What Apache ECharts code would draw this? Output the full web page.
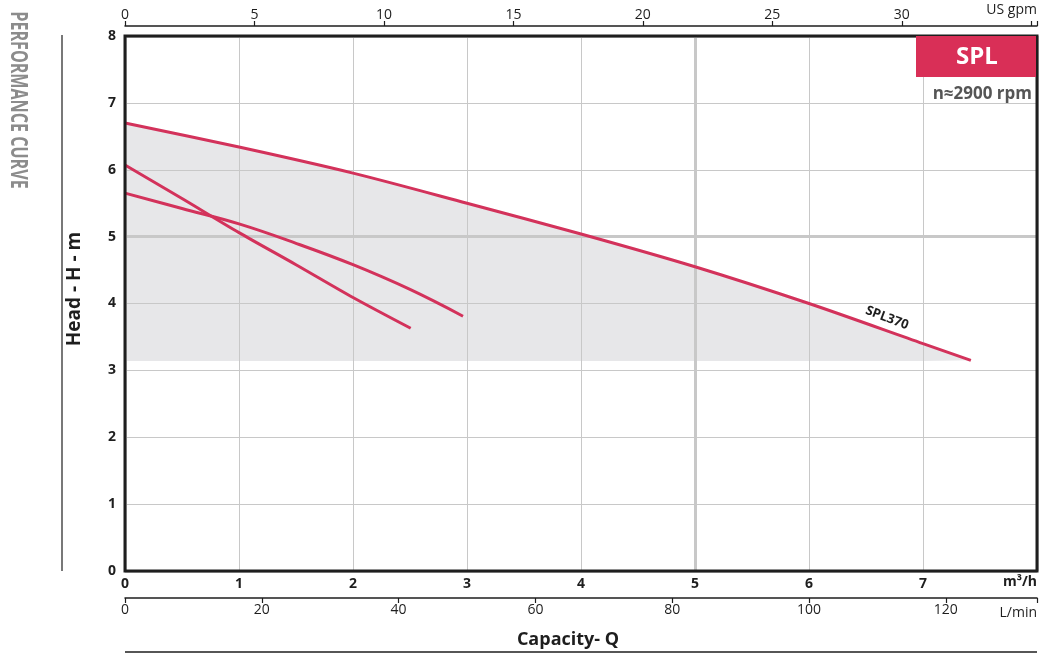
<!DOCTYPE html>
<html>
<head>
<meta charset="utf-8">
<script src="https://cdn.jsdelivr.net/npm/echarts@6/dist/echarts.min.js"></script>
<style>html,body{margin:0;padding:0;background:#fff}#c{width:1055px;height:663px}</style>
</head>
<body>
<div id="c"></div>
<script>
// ---- data ----
const splQ = [0, 1, 2, 3, 4, 5, 6, 7, 7.42];            // m3/h
const splH = [6.70, 6.34, 5.95, 5.50, 5.04, 4.55, 4.00, 3.40, 3.15];
const curveBQ = [0, 0.5, 1, 1.5, 2, 2.5, 2.965];
const curveBH = [5.65, 5.42, 5.19, 4.90, 4.58, 4.21, 3.81];
const curveCQ = [0, 0.5, 1, 1.5, 2, 2.506];
const curveCH = [6.07, 5.57, 5.06, 4.58, 4.09, 3.63];
const areaBase = 3.14;
const qMax = 8, hMax = 8;
const gpmPerM3h = 4.4029, lpmPerM3h = 16.6667;
const gpmLastLabel = 30, lpmLastLabel = 120;
const seriesName = 'SPL370';
const badgeText = 'SPL';
const rpmText = 'n≈2900 rpm';
const yTitle = 'Head - H - m';
const xTitle = 'Capacity- Q';

const pairs = (xs, ys) => xs.map((x, i) => [x, ys[i]]);
const RED = '#d3325b';
const FONT = 'Open Sans';
const G = { left: 125, right: 18, top: 36, bottom: 92 };

const chart = echarts.init(document.getElementById('c'));
chart.setOption({
  animation: false,
  textStyle: { fontFamily: FONT },
  grid: { left: G.left, right: G.right, top: G.top, bottom: G.bottom, show: false },
  xAxis: [
    { type: 'value', min: 0, max: qMax, interval: 1, position: 'bottom',
      axisLine: { show: false }, axisTick: { show: false },
      axisLabel: { color: '#1e1e1e', fontWeight: 'bold', fontSize: 14, margin: 6, showMaxLabel: false },
      splitLine: { show: true, lineStyle: { color: '#c8c8c8', width: 1 } } },
    { type: 'value', min: 0, max: qMax * gpmPerM3h, interval: 5, position: 'top', offset: 10,
      axisLine: { show: true, onZero: false, lineStyle: { color: '#1e1e1e', width: 1.5 } },
      axisTick: { show: true, length: 5, lineStyle: { color: '#1e1e1e', width: 1.2 } },
      axisLabel: { color: '#1e1e1e', fontSize: 14, margin: 4,
        formatter: v => (v <= gpmLastLabel && Math.abs(v % 5) < 1e-6) ? String(v) : '' },
      splitLine: { show: false } },
    { type: 'value', min: 0, max: qMax * lpmPerM3h, interval: 20, position: 'bottom', offset: 27,
      axisLine: { show: true, onZero: false, lineStyle: { color: '#1e1e1e', width: 1.5 } },
      axisTick: { show: true, length: 5, lineStyle: { color: '#1e1e1e', width: 1.2 } },
      axisLabel: { color: '#1e1e1e', fontSize: 14, margin: 5,
        formatter: v => (v <= lpmLastLabel && Math.abs(v % 20) < 1e-6) ? String(v) : '' },
      splitLine: { show: false } },
    { type: 'value', min: 0, max: qMax, interval: 5, position: 'bottom',
      axisLine: { show: false }, axisTick: { show: false }, axisLabel: { show: false },
      splitLine: { show: true, lineStyle: { color: '#c8c8c8', width: 3 } } }
  ],
  yAxis: [
    { type: 'value', min: 0, max: hMax, interval: 1,
      axisLine: { show: false }, axisTick: { show: false },
      axisLabel: { color: '#1e1e1e', fontWeight: 'bold', fontSize: 14, margin: 9 },
      splitLine: { show: true, lineStyle: { color: '#c8c8c8', width: 1 } } },
    { type: 'value', min: 0, max: hMax, interval: 5, position: 'left',
      axisLine: { show: false }, axisTick: { show: false }, axisLabel: { show: false },
      splitLine: { show: true, lineStyle: { color: '#c8c8c8', width: 3 } } }
  ],
  series: [
    { type: 'line', name: 'area', xAxisIndex: 0, yAxisIndex: 0, data: pairs(splQ, splH), smooth: 0.3,
      symbol: 'none', silent: true, z: -1, lineStyle: { width: 0, opacity: 0 },
      areaStyle: { color: '#e7e7e9', opacity: 1, origin: areaBase } },
    { type: 'line', name: seriesName, data: pairs(splQ, splH), smooth: 0.3, symbol: 'none', z: 5,
      lineStyle: { color: RED, width: 3 } },
    { type: 'line', name: 'B', data: pairs(curveBQ, curveBH), smooth: 0.4, symbol: 'none', z: 5,
      lineStyle: { color: RED, width: 3 } },
    { type: 'line', name: 'C', data: pairs(curveCQ, curveCH), smooth: 0.3, symbol: 'none', z: 5,
      lineStyle: { color: RED, width: 3 } }
  ],
  graphic: [
    { type: 'rect', z: 20, shape: { x: G.left, y: G.top, width: 1055 - G.left - G.right, height: 663 - G.top - G.bottom },
      style: { fill: 'none', stroke: '#1e1e1e', lineWidth: 3 } },
    { type: 'line', shape: { x1: 62, y1: 35, x2: 62, y2: 571 }, style: { stroke: '#1e1e1e', lineWidth: 1.2 } },
    { type: 'line', shape: { x1: 125, y1: 652, x2: 1037, y2: 652 }, style: { stroke: '#1e1e1e', lineWidth: 1.5 } },
    { type: 'text', x: 18, y: 100, rotation: -Math.PI / 2, scaleX: 0.7,
      style: { text: 'PERFORMANCE CURVE', fill: '#8c8c8c', font: 'bold 23px "Open Sans"', align: 'center', verticalAlign: 'middle' } },
    { type: 'text', x: 75, y: 289, rotation: Math.PI / 2,
      style: { text: yTitle, fill: '#1e1e1e', font: 'bold 19px "Open Sans"', align: 'center', verticalAlign: 'middle' } },
    { type: 'text', x: 1037, y: 10, style: { text: 'US gpm', fill: '#1e1e1e', font: '14px "Open Sans"', align: 'right', verticalAlign: 'middle' } },
    { type: 'text', x: 1037, y: 613, style: { text: 'L/min', fill: '#1e1e1e', font: '14px "Open Sans"', align: 'right', verticalAlign: 'middle' } },
    { type: 'text', x: 1037, y: 582, style: { text: 'm³/h', fill: '#1e1e1e', font: 'bold 14px "Open Sans"', align: 'right', verticalAlign: 'middle' } },
    { type: 'text', x: 568, y: 640, style: { text: xTitle, fill: '#1e1e1e', font: 'bold 18px "Open Sans"', align: 'center', verticalAlign: 'middle' } },
    { type: 'rect', shape: { x: 916, y: 36, width: 120, height: 41 }, style: { fill: '#d92f57' }, z: 21 },
    { type: 'text', x: 977, y: 57, z: 22, style: { text: badgeText, fill: '#ffffff', font: 'bold 24px "Open Sans"', align: 'center', verticalAlign: 'middle' } },
    { type: 'text', x: 1032, y: 94, z: 22, style: { text: rpmText, fill: '#555555', font: 'bold 17px "Open Sans"', align: 'right', verticalAlign: 'middle' } },
    { type: 'text', x: 887, y: 318, rotation: -0.36, z: 22, style: { text: seriesName, fill: '#1e1e1e', font: 'bold 13px "Open Sans"', align: 'center', verticalAlign: 'middle' } }
  ]
});
</script>
</body>
</html>
